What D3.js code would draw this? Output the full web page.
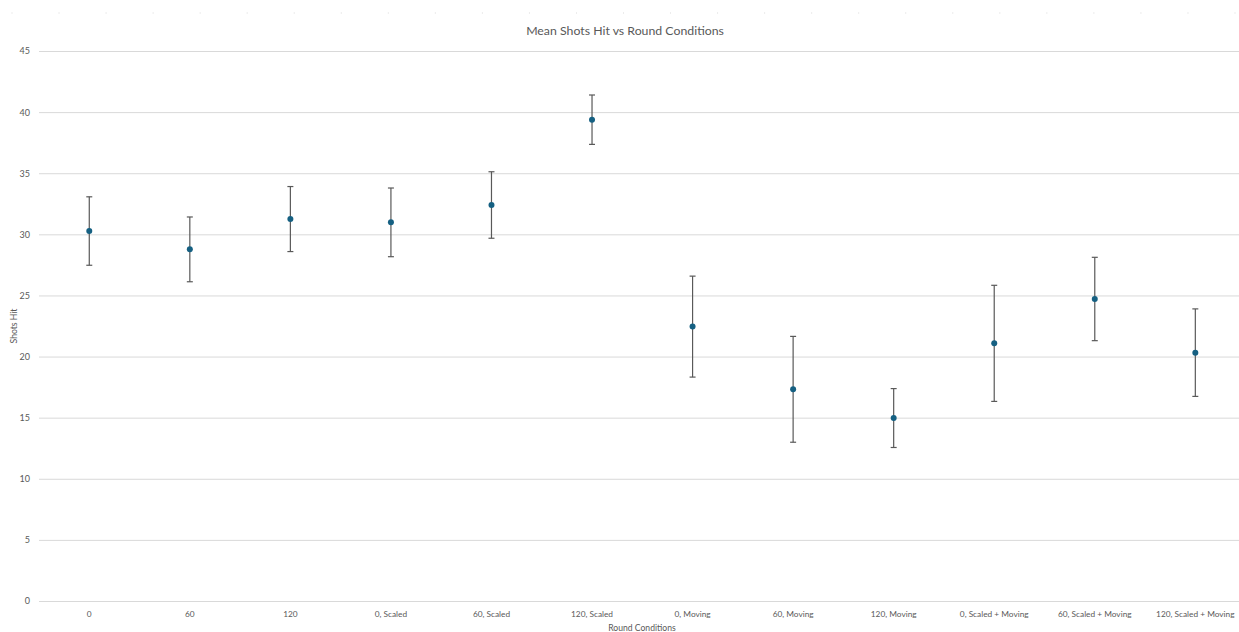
<!DOCTYPE html>
<html>
<head>
<meta charset="utf-8">
<script src="https://cdn.jsdelivr.net/npm/d3@7"></script>
<style>
  html, body { margin: 0; padding: 0; background: #fff; }
  svg { display: block; }
  text { font-family: Lato, "Open Sans", sans-serif; fill: #595959; }
</style>
</head>
<body>
<svg id="chart" width="1239" height="632"></svg>
<script>
const categories = ["0", "60", "120", "0, Scaled", "60, Scaled", "120, Scaled",
  "0, Moving", "60, Moving", "120, Moving", "0, Scaled + Moving", "60, Scaled + Moving", "120, Scaled + Moving"];
const means = [30.27, 28.77, 31.25, 30.98, 32.40, 39.38, 22.45, 17.32, 14.97, 21.08, 24.71, 20.32];
const errors = [2.80, 2.65, 2.66, 2.81, 2.72, 2.02, 4.13, 4.33, 2.41, 4.75, 3.41, 3.58];
const yTicks = [0, 5, 10, 15, 20, 25, 30, 35, 40, 45];
const title = "Mean Shots Hit vs Round Conditions";
const xTitle = "Round Conditions";
const yTitle = "Shots Hit";

const W = 1239, H = 632;
const plot = { left: 39, right: 1239, top: 51, bottom: 601 };
const FONT = "Lato, 'Open Sans', sans-serif";

const svg = d3.select("#chart");

// faint dotted border at top
const dotScale = d3.scaleLinear().domain([0, 26]).range([12, 1235]);
svg.append("g").selectAll("rect").data(d3.range(27)).join("rect")
  .attr("x", d => dotScale(d) - 0.5).attr("y", 12.5).attr("width", 1).attr("height", 1)
  .attr("fill", "#d9d9d9");

const x = d3.scaleBand().domain(categories).range([plot.left, plot.left + 100.55 * 12]).paddingInner(0).paddingOuter(0);
const y = d3.scaleLinear().domain([0, 45]).range([plot.bottom, plot.top]);

// gridlines
const yAxis = d3.axisLeft(y).tickValues(yTicks).tickSize(-(plot.right - plot.left)).tickPadding(9);
const gy = svg.append("g").attr("transform", `translate(${plot.left},0)`).call(yAxis);
gy.select(".domain").remove();
gy.selectAll(".tick line").attr("stroke", "#d9d9d9").attr("stroke-width", 1);
gy.selectAll(".tick text").attr("font-size", 9).style("fill", "#595959")
  .attr("font-family", FONT);

// x axis labels
const xAxis = d3.axisBottom(x).tickSize(0).tickPadding(10);
const gx = svg.append("g").attr("transform", `translate(0,${plot.bottom})`).call(xAxis);
gx.select(".domain").remove();
gx.selectAll(".tick text").attr("font-size", 8.3).style("fill", "#595959")
  .attr("font-family", FONT);

const cx = c => x(c) + x.bandwidth() / 2;

// error bars
const eb = svg.append("g").attr("stroke", "#595959").attr("stroke-width", 1.2);
categories.forEach((c, i) => {
  const top = y(means[i] + errors[i]), bot = y(means[i] - errors[i]);
  eb.append("line").attr("x1", cx(c)).attr("x2", cx(c)).attr("y1", top).attr("y2", bot);
  eb.append("line").attr("x1", cx(c) - 3).attr("x2", cx(c) + 3).attr("y1", top).attr("y2", top);
  eb.append("line").attr("x1", cx(c) - 3).attr("x2", cx(c) + 3).attr("y1", bot).attr("y2", bot);
});

// points
svg.append("g").selectAll("circle").data(categories).join("circle")
  .attr("cx", c => cx(c)).attr("cy", (c, i) => y(means[i])).attr("r", 3)
  .attr("fill", "#156082");

// titles
svg.append("text").attr("x", 625).attr("y", 35).attr("text-anchor", "middle")
  .attr("font-size", 12.3).text(title);
svg.append("text").attr("x", 642).attr("y", 631).attr("text-anchor", "middle")
  .attr("font-size", 8.6).text(xTitle);
svg.append("text").attr("transform", "translate(17,326) rotate(-90)").attr("text-anchor", "middle")
  .attr("font-size", 8.6).text(yTitle);
</script>
</body>
</html>
